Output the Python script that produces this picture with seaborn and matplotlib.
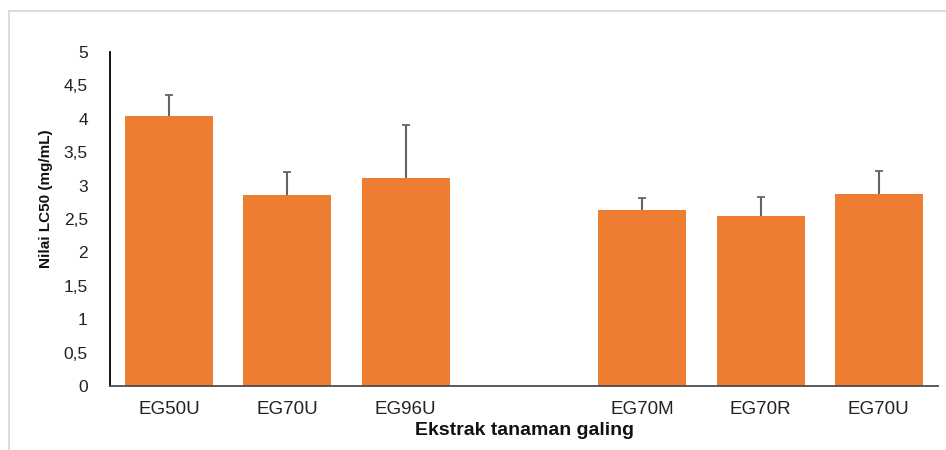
import matplotlib
matplotlib.use("Agg")
import matplotlib.pyplot as plt
import matplotlib.patches as mpatches
from matplotlib.ticker import FuncFormatter
import seaborn as sns
import pandas as pd
import numpy as np

# ---- data ----
slots = ["s0", "s1", "s2", "s3", "s4", "s5", "s6"]          # s3 is an empty gap
tick_labels = ["EG50U", "EG70U", "EG96U", "", "EG70M", "EG70R", "EG70U"]
bar_slots = ["s0", "s1", "s2", "s4", "s5", "s6"]
lc50_values = [4.04, 2.86, 3.11, 2.63, 2.54, 2.87]
lc50_errors = [0.32, 0.35, 0.80, 0.19, 0.29, 0.35]

df = pd.DataFrame({"slot": bar_slots, "value": lc50_values, "err": lc50_errors})

sns.set_theme(style="white")
plt.rcParams["font.family"] = ["Liberation Sans", "DejaVu Sans"]

fig = plt.figure(figsize=(9.46, 4.5), dpi=100)
ax = fig.add_axes([110 / 946, 64 / 450, 828 / 946, 334 / 450])

sns.barplot(data=df, x="slot", y="value", order=slots, color="#ED7D31",
            saturation=1, width=0.745, errorbar=None, ax=ax, linewidth=0)

# upper error bars, positioned from the drawn bars
bars = [p for p in ax.patches if p.get_height() > 0]
bars = sorted(bars, key=lambda p: p.get_x())
xs = [p.get_x() + p.get_width() / 2 for p in bars]
ys = [p.get_height() for p in bars]
_, caps, _ = ax.errorbar(xs, ys, yerr=[np.zeros(len(lc50_errors)), lc50_errors],
                         fmt="none", ecolor="#646464", elinewidth=1.5, capsize=3,
                         capthick=1.3, zorder=3)
caps[0].set_visible(False)   # hide lower caps (plus-only error bars)

ax.set_ylim(0, 5)
ax.set_xlim(-0.5, 6.5)
ax.set_yticks(np.arange(0, 5.01, 0.5))
ax.yaxis.set_major_formatter(FuncFormatter(lambda v, p: f"{v:g}".replace(".", ",")))
ax.set_xticks(range(len(slots)))
ax.set_xticklabels(tick_labels)

ax.tick_params(axis="y", length=0, pad=16, labelsize=12.5, labelcolor="#222222")
ax.tick_params(axis="x", length=0, pad=11, labelsize=13.5, labelcolor="#222222")

ax.set_xlabel("Ekstrak tanaman galing", fontsize=14, fontweight="bold", color="#111111")
ax.set_ylabel("Nilai LC50 (mg/mL)", fontsize=11, fontweight="bold", color="#111111")
ax.yaxis.set_label_coords(-57 / 828, 0.56)
ax.xaxis.set_label_coords(0.5, -36 / 334)

for s in ["top", "right"]:
    ax.spines[s].set_visible(False)
ax.spines["left"].set_color("black")
ax.spines["left"].set_linewidth(1.3)
ax.spines["bottom"].set_color("#4d4d4d")
ax.spines["bottom"].set_linewidth(1.3)
ax.grid(False)

# light frame around the chart area (left and top visible)
fig.patches.append(mpatches.Rectangle((8.5 / 946, -0.1), 1.2, 1.1 - 11.5 / 450,
                                      transform=fig.transFigure, fill=False,
                                      edgecolor="#d9d9d9", linewidth=1.3))

fig.savefig("out.png", dpi=100)
